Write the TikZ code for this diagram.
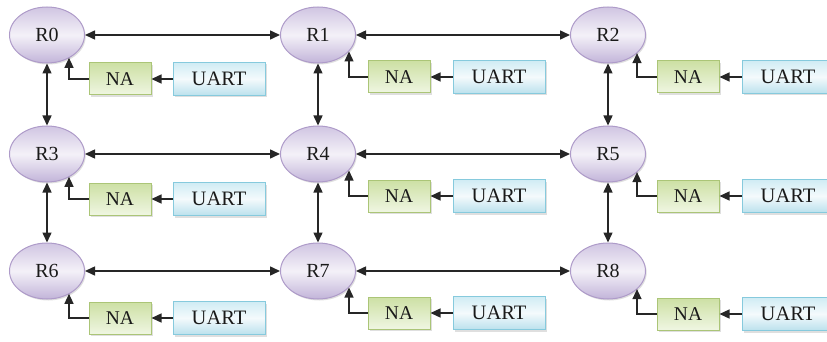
\documentclass[tikz,border=0pt]{standalone}
\usepackage{fontspec}
\setmainfont{Liberation Serif}
\usetikzlibrary{arrows.meta,shadows,calc,shapes.geometric}
\definecolor{rborder}{HTML}{AE9BC9}
\definecolor{rtop}{HTML}{D0C5E2}
\definecolor{rmid}{HTML}{F4F1F8}
\definecolor{rbot}{HTML}{C2B4D9}
\definecolor{naborder}{HTML}{ABC577}
\definecolor{natop}{HTML}{CDE0A4}
\definecolor{nabot}{HTML}{EFF6E2}
\definecolor{uborder}{HTML}{86CADD}
\definecolor{utop}{HTML}{D0ECF4}
\definecolor{umid}{HTML}{F4FAFC}
\definecolor{ubot}{HTML}{BBE1ED}
\definecolor{txt}{HTML}{1A1A1A}
\tikzset{
  router/.style={ellipse, draw=rborder, line width=1pt, minimum width=75pt, minimum height=56pt, inner sep=0pt,
    top color=rtop, bottom color=rbot, middle color=rmid, text=txt, font=\fontsize{20}{20}\selectfont,
    drop shadow={shadow xshift=1.2pt, shadow yshift=-1.5pt, fill=black!25}},
  nabox/.style={rectangle, draw=naborder, line width=1pt, minimum width=62pt, minimum height=32pt, inner sep=0pt,
    top color=natop, bottom color=nabot, text=txt, font=\fontsize{19.5}{19.5}\selectfont,
    drop shadow={shadow xshift=2pt, shadow yshift=-2pt, fill=black!25}},
  uartbox/.style={rectangle, draw=uborder, line width=1pt, minimum width=92pt, minimum height=33pt, inner sep=0pt,
    top color=utop, bottom color=ubot, middle color=umid, text=txt, font=\fontsize{20.5}{20.5}\selectfont,
    drop shadow={shadow xshift=2pt, shadow yshift=-2pt, fill=black!25}},
  link/.style={line width=1.5pt, black!85, {Triangle[length=10pt,width=9pt]}-{Triangle[length=10pt,width=9pt]}},
  feed/.style={line width=1.3pt, black!85, -{Triangle[length=10pt,width=9pt]}},
}
\begin{document}
\begin{tikzpicture}[x=1pt,y=-1pt]
\useasboundingbox (0,0) rectangle (827,342);
\clip (0,0) rectangle (827,342);
% routers
\node[router] (R0) at (47,35) {R0};
\node[router] (R1) at (318,35) {R1};
\node[router] (R2) at (608,35) {R2};
\node[router] (R3) at (47,154) {R3};
\node[router] (R4) at (318,154) {R4};
\node[router] (R5) at (608,154) {R5};
\node[router] (R6) at (47,271) {R6};
\node[router] (R7) at (318,271) {R7};
\node[router] (R8) at (608,271) {R8};
% NA boxes
\node[nabox] (N0) at (120,79) {NA};
\node[nabox] (N1) at (399,77) {NA};
\node[nabox] (N2) at (688,77) {NA};
\node[nabox] (N3) at (120,199) {NA};
\node[nabox] (N4) at (399,196) {NA};
\node[nabox] (N5) at (688,196) {NA};
\node[nabox] (N6) at (120,318) {NA};
\node[nabox] (N7) at (399,313) {NA};
\node[nabox] (N8) at (688,314) {NA};
% UART boxes
\node[uartbox] (U0) at (219,79) {UART};
\node[uartbox] (U1) at (499,77) {UART};
\node[uartbox] (U2) at (788,77) {UART};
\node[uartbox] (U3) at (219,199) {UART};
\node[uartbox] (U4) at (499,196) {UART};
\node[uartbox] (U5) at (788,196) {UART};
\node[uartbox] (U6) at (219,318) {UART};
\node[uartbox] (U7) at (499,313) {UART};
\node[uartbox] (U8) at (788,314) {UART};
% mesh links
\draw[link] (R0) -- (R1);
\draw[link] (R1) -- (R2);
\draw[link] (R3) -- (R4);
\draw[link] (R4) -- (R5);
\draw[link] (R6) -- (R7);
\draw[link] (R7) -- (R8);
\draw[link] (R0) -- (R3);
\draw[link] (R3) -- (R6);
\draw[link] (R1) -- (R4);
\draw[link] (R4) -- (R7);
\draw[link] (R2) -- (R5);
\draw[link] (R5) -- (R8);
% UART -> NA
\foreach \i in {0,...,8}{
  \draw[feed] (U\i) -- (N\i);
}
% NA -> router
\draw[feed] (N0.west) -| ([xshift=22pt,yshift=-22.8pt]R0.center);
\draw[feed] (N3.west) -| ([xshift=22pt,yshift=-22.8pt]R3.center);
\draw[feed] (N6.west) -| ([xshift=22pt,yshift=-22.8pt]R6.center);
\draw[feed] (N1.west) -| ([xshift=31pt,yshift=-16.5pt]R1.center);
\draw[feed] (N4.west) -| ([xshift=31pt,yshift=-16.5pt]R4.center);
\draw[feed] (N7.west) -| ([xshift=31pt,yshift=-16.5pt]R7.center);
\draw[feed] (N2.west) -| ([xshift=29pt,yshift=-18.1pt]R2.center);
\draw[feed] (N5.west) -| ([xshift=29pt,yshift=-18.1pt]R5.center);
\draw[feed] (N8.west) -| ([xshift=29pt,yshift=-18.1pt]R8.center);
\end{tikzpicture}
\end{document}
